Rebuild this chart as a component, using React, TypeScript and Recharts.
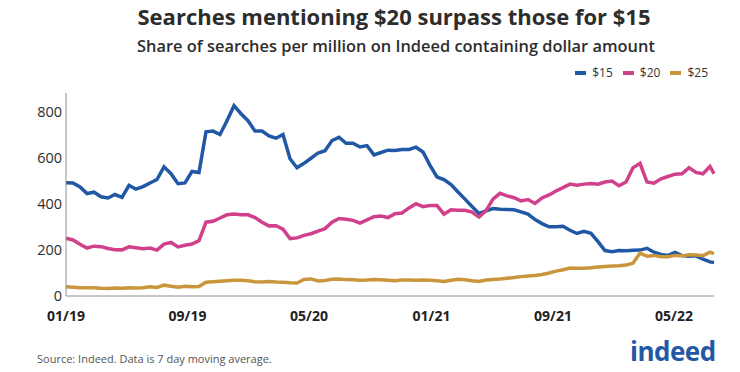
import { LineChart, Line, XAxis, YAxis } from "recharts";

// values, one point every 14 days from 2019-01-01 (last point ~2022-07-20)
const usd15 = [
  491, 490, 473, 444, 450, 430, 425, 440, 428, 480, 463, 474, 490, 505, 560, 530,
  487, 490, 540, 535, 712, 715, 700, 760, 825, 790, 760, 715, 715, 694, 684, 700,
  595, 556, 575, 597, 620, 630, 674, 688, 662, 662, 646, 652, 612, 622, 632, 631,
  635, 635, 645, 624, 566, 516, 505, 483, 451, 420, 388, 358, 369, 379, 376, 375,
  374, 365, 355, 331, 314, 300, 300, 302, 285, 271, 280, 272, 236, 197, 192, 197,
  196, 198, 199, 207, 190, 180, 176, 189, 175, 172, 174, 160, 148, 145,
];
const usd20 = [
  250, 243, 224, 208, 216, 214, 206, 201, 200, 213, 209, 205, 208, 199, 225, 232,
  213, 220, 225, 240, 320, 324, 338, 352, 355, 352, 352, 340, 320, 304, 305, 290,
  249, 252, 263, 270, 281, 292, 320, 336, 333, 328, 316, 330, 344, 347, 340, 357,
  360, 382, 400, 387, 392, 392, 355, 374, 372, 372, 364, 342, 370, 420, 445, 434,
  426, 412, 418, 401, 425, 438, 455, 470, 485, 480, 485, 488, 485, 494, 498, 478,
  494, 556, 575, 494, 489, 508, 518, 528, 530, 556, 536, 530, 562, 530,
];
const usd25 = [
  40, 38, 36, 36, 36, 34, 33, 35, 34, 36, 35, 36, 40, 37, 47, 42,
  38, 42, 40, 41, 60, 62, 64, 66, 68, 68, 66, 62, 61, 63, 61, 60,
  57, 56, 72, 74, 65, 67, 73, 74, 71, 70, 68, 69, 71, 70, 68, 66,
  69, 69, 68, 69, 68, 66, 63, 68, 73, 70, 66, 63, 69, 72, 74, 77,
  80, 84, 87, 89, 93, 100, 108, 114, 121, 120, 120, 122, 126, 128, 130, 131,
  134, 142, 186, 172, 176, 170, 170, 176, 174, 179, 178, 175, 190, 184,
];

const tickDays = [0, 243, 486, 731, 974, 1216];
const tickLabels = ["01/19", "09/19", "05/20", "01/21", "09/21", "05/22"];
const yTicks = [0, 200, 400, 600, 800];

const series = [
  { key: "usd15", name: "$15", color: "#2158a6" },
  { key: "usd20", name: "$20", color: "#d1408b" },
  { key: "usd25", name: "$25", color: "#c9963c" },
];

const data = usd15.map((v, i) => ({
  day: i < usd15.length - 1 ? i * 14 : 1296,
  usd15: v,
  usd20: usd20[i],
  usd25: usd25[i],
}));

const font = "'Open Sans', 'Noto Sans', sans-serif";

export default function App() {
  return (
    <div style={{ position: "absolute", left: 0, top: 0, width: 740, height: 372, background: "#fff", fontFamily: font }}>
      <div style={{ position: "absolute", left: 24, top: 5, width: 740, textAlign: "center", fontSize: 22, lineHeight: "22px", fontWeight: 700, color: "#2d2d2d" }}>
        Searches mentioning $20 surpass those for $15
      </div>
      <div style={{ position: "absolute", left: 26, top: 38, width: 740, textAlign: "center", fontSize: 16.4, lineHeight: "16px", fontWeight: 600, color: "#2d2d2d" }}>
        Share of searches per million on Indeed containing dollar amount
      </div>
      <div style={{ position: "absolute", right: 32, top: 64, display: "flex", gap: 10, fontSize: 12, color: "#333" }}>
        {series.map((s) => (
          <div key={s.key} style={{ display: "flex", alignItems: "center" }}>
            <span style={{ width: 11, height: 4, background: s.color, marginRight: 6 }} />
            {s.name}
          </div>
        ))}
      </div>
      <LineChart width={740} height={372} data={data} margin={{ top: 93, right: 26, bottom: 46, left: 0 }}>
        <XAxis
          dataKey="day"
          type="number"
          domain={[0, 1296]}
          ticks={tickDays}
          interval={0}
          tickFormatter={(d) => tickLabels[tickDays.indexOf(d)]}
          tickLine={false}
          tickSize={0}
          tickMargin={15}
          height={30}
          stroke="#8e8e8e"
          tick={{ fontSize: 14, fontWeight: 700, fill: "#222", fontFamily: font }}
        />
        <YAxis
          domain={[0, 880]}
          ticks={yTicks}
          width={66}
          tickLine={false}
          tickSize={0}
          tickMargin={4}
          stroke="#8e8e8e"
          tick={{ fontSize: 14.5, fill: "#2d2d2d", fontFamily: font }}
        />
        {series.map((s) => (
          <Line
            key={s.key}
            dataKey={s.key}
            name={s.name}
            stroke={s.color}
            strokeWidth={3.5}
            dot={false}
            type="linear"
            isAnimationActive={false}
          />
        ))}
      </LineChart>
      <div style={{ position: "absolute", left: 37, top: 351, fontSize: 11, color: "#555" }}>
        Source: Indeed. Data is 7 day moving average.
      </div>
      <div style={{ position: "absolute", left: 630, top: 333, fontSize: 26, fontWeight: 700, color: "#2557a7", letterSpacing: -0.5 }}>
        indeed
      </div>
    </div>
  );
}
